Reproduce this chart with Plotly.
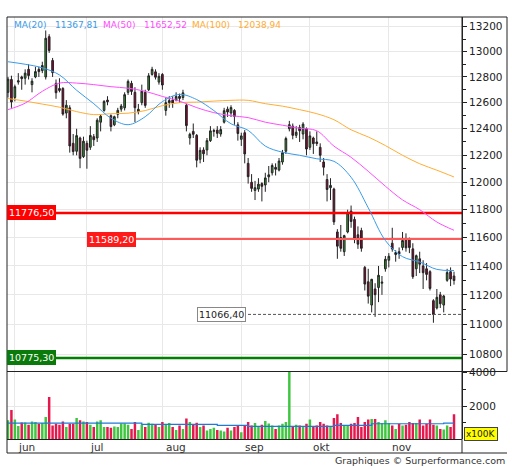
import math
import plotly.graph_objects as go

# daily candles, 30 May -> 28 Nov (index = trading day)
opens = [12680, 12780, 12640, 12760, 12800, 12790, 12860, 12740, 12800, 12860, 12850, 12800, 13120,
         12930, 12750, 12710, 12710, 12520, 12560, 12290, 12230, 12330, 12190, 12290, 12260, 12340,
         12330, 12450, 12540, 12620, 12500, 12430, 12510, 12550, 12560, 12680, 12750, 12680, 12530,
         12600, 12680, 12700, 12820, 12840, 12760, 12820, 12540, 12600, 12620, 12620, 12650, 12640,
         12580, 12330, 12380, 12350, 12170, 12240, 12240, 12310, 12380, 12390, 12360, 12450, 12550,
         12520, 12540, 12430, 12320, 12370, 12140, 12000, 11940, 11950, 11990, 11980, 12040, 12070,
         12110, 12090, 12150, 12230, 12400, 12420, 12350, 12410, 12360, 12400, 12260, 12330, 12300,
         12260, 12150, 12020, 11960, 11950, 11640, 11600, 11500, 11640, 11790, 11730, 11620, 11650,
         11390, 11290, 11130, 11240, 11250, 11280, 11380, 11440, 11560, 11480, 11500, 11530, 11590,
         11590, 11520, 11380, 11450, 11400, 11380, 11360, 11160, 11110, 11200, 11130, 11300, 11360,
         11330]
highs = [12800, 12810, 12740, 12830, 12810, 12860, 12900, 12790, 12880, 12880, 12920, 13170, 13140,
         12950, 12780, 12790, 12720, 12620, 12580, 12360, 12400, 12340, 12340, 12310, 12420, 12360,
         12480, 12510, 12620, 12650, 12510, 12500, 12560, 12590, 12680, 12780, 12770, 12720, 12590,
         12740, 12700, 12830, 12880, 12860, 12830, 12830, 12640, 12650, 12650, 12680, 12670, 12700,
         12590, 12370, 12440, 12360, 12260, 12260, 12330, 12420, 12400, 12420, 12420, 12560, 12570,
         12580, 12550, 12450, 12370, 12390, 12180, 12060, 12010, 12030, 12000, 12070, 12120, 12140,
         12140, 12180, 12240, 12340, 12460, 12440, 12420, 12430, 12450, 12410, 12380, 12340, 12380,
         12290, 12180, 12060, 12030, 11960, 11660, 11690, 11620, 11800, 11830, 11750, 11680, 11670,
         11400, 11380, 11310, 11280, 11400, 11330, 11470, 11490, 11670, 11510, 11530, 11640, 11630,
         11600, 11560, 11480, 11500, 11440, 11420, 11370, 11170, 11240, 11220, 11200, 11380, 11390,
         11360]
lows = [12640, 12560, 12610, 12740, 12700, 12740, 12780, 12680, 12790, 12800, 12830, 12780, 12990,
        12800, 12630, 12680, 12500, 12480, 12220, 12200, 12200, 12104, 12180, 12100, 12240, 12270,
        12300, 12380, 12530, 12580, 12380, 12420, 12480, 12530, 12540, 12660, 12660, 12450, 12510,
        12580, 12560, 12690, 12810, 12780, 12740, 12700, 12500, 12560, 12560, 12610, 12600, 12620,
        12380, 12280, 12330, 12110, 12140, 12150, 12200, 12300, 12340, 12330, 12340, 12440, 12490,
        12490, 12430, 12310, 12270, 12140, 11990, 11930, 11870, 11930, 11860, 11930, 12000, 12050,
        12050, 12080, 12130, 12210, 12380, 12320, 12330, 12300, 12320, 12200, 12240, 12210, 12270,
        12150, 12050, 11860, 11870, 11690, 11450, 11500, 11470, 11630, 11670, 11560, 11520, 11500,
        11230, 11140, 11080, 11050, 11150, 11200, 11360, 11390, 11500, 11430, 11450, 11510, 11500,
        11490, 11310, 11330, 11350, 11240, 11300, 11230, 11010, 11100, 11110, 11080, 11290, 11260,
        11270]
closes = [12783, 12605, 12724, 12770, 12787, 12830, 12811, 12767, 12842, 12842, 12890, 13107, 13010,
          12834, 12677, 12695, 12512, 12580, 12270, 12228, 12348, 12177, 12306, 12238, 12349, 12317,
          12465, 12496, 12609, 12607, 12417, 12492, 12541, 12574, 12662, 12765, 12687, 12561, 12549,
          12689, 12579, 12809, 12860, 12798, 12805, 12737, 12600, 12616, 12598, 12648, 12633, 12676,
          12424, 12358, 12358, 12163, 12237, 12211, 12310, 12384, 12386, 12365, 12394, 12538, 12528,
          12562, 12494, 12364, 12346, 12210, 12041, 11955, 11960, 11986, 11970, 12032, 12055, 12124,
          12096, 12157, 12219, 12326, 12431, 12350, 12374, 12385, 12435, 12247, 12346, 12287, 12288,
          12200, 12111, 11947, 11977, 11712, 11539, 11524, 11614, 11777, 11715, 11589, 11553, 11524,
          11274, 11191, 11307, 11201, 11335, 11287, 11447, 11468, 11519, 11494, 11484, 11579, 11527,
          11529, 11325, 11472, 11412, 11353, 11341, 11244, 11066, 11183, 11139, 11192, 11354, 11309,
          11299]
# volume, in units of 100K
volume = [1145, 1760, 1200, 800, 1020, 1020, 880, 1080, 1040, 940, 980, 1350, 2535, 840, 940, 880,
          1080, 740, 940, 940, 1290, 1145, 1080, 1040, 880, 740, 1080, 1145, 740, 740, 700, 780,
          740, 960, 960, 880, 630, 1040, 570, 900, 740, 1000, 940, 900, 740, 1040, 920, 980, 740,
          570, 840, 630, 1250, 1040, 880, 1000, 740, 840, 530, 630, 700, 570, 530, 470, 700, 530,
          740, 840, 430, 800, 1040, 840, 980, 740, 880, 1100, 960, 840, 630, 840, 940, 1040, 4200,
          780, 880, 840, 780, 940, 1200, 780, 840, 1040, 940, 840, 780, 1290, 1510, 980, 840, 840,
          940, 980, 1350, 740, 1040, 1190, 1230, 1230, 1040, 980, 1145, 980, 840, 630, 940, 840,
          880, 1040, 980, 980, 1190, 840, 940, 1190, 880, 840, 630, 590, 840, 740, 1510]
vol_avg_idx = [0, 39, 61, 70, 95, 106, 127, 130]
vol_avg = [980, 900, 840, 780, 840, 940, 980, 980]

# moving averages read every 5 trading days
ma_idx = list(range(0, 131, 5))
ma20 = [12920, 12900, 12872, 12816, 12696, 12592, 12481, 12431, 12492, 12608, 12664, 12624, 12539,
        12438, 12388, 12269, 12223, 12200, 12174, 12155, 12037, 11814, 11579, 11465, 11428, 11376, 11368]
ma50 = [12546, 12596, 12688, 12752, 12752, 12740, 12724, 12712, 12688, 12648, 12612, 12562, 12523,
        12500, 12485, 12450, 12427, 12404, 12385, 12269, 12185, 12081, 11971, 11871, 11800, 11711, 11652]
ma100 = [12632, 12612, 12589, 12565, 12531, 12508, 12515, 12519, 12539, 12577, 12600, 12604, 12612,
         12618, 12618, 12592, 12573, 12546, 12515, 12469, 12392, 12338, 12273, 12200, 12137, 12089, 12039]

month_idx = [2, 23, 45, 68, 88, 111]
month_names = ["jun", "jul", "aug", "sep", "okt", "nov"]
price_ticks = [10800, 11000, 11200, 11400, 11600, 11800, 12000, 12200, 12400, 12600, 12800, 13000, 13200]

levels = [11776.50, 11589.20, 11066.40, 10775.30]
level_labels = ["11776,50", "11589,20", "11066,40", "10775,30"]
legend_names = ["MA(20)", "MA(50)", "MA(100)"]
legend_values = ["11367,81", "11652,52", "12038,94"]

FONT = "DejaVu Sans"
GRID = "#e8e8e8"
INK = "#222222"
n = len(closes)
idx = list(range(n))
X0, X1 = -0.29, 132.33


def px_x(px):
    return (px - 7) / 455


def px_y(py):
    return (453 - py) / 436


fig = go.Figure()

# level lines (drawn first, under the candles)
level_start = [12.6, 36.4, 68.5, 12.2]
level_style = [dict(color="#ff0000", width=2.5), dict(color="#ff5a5a", width=2),
               dict(color="#555555", width=1, dash="3px,2px"), dict(color="#008000", width=2.5)]
for lv, x_start, st in zip(levels, level_start, level_style):
    fig.add_trace(go.Scatter(x=[x_start, X1], y=[lv, lv], mode="lines", line=st, hoverinfo="skip"))

ma_colors = ["#3a9be8", "#ff4dff", "#ffad33"]
for vals, col in zip([ma100, ma50, ma20], ma_colors[::-1]):
    fig.add_trace(go.Scatter(x=ma_idx, y=vals, mode="lines", line=dict(color=col, width=1, shape="spline"),
                             hoverinfo="skip"))

fig.add_trace(go.Candlestick(
    x=idx, open=opens, high=highs, low=lows, close=closes,
    increasing=dict(fillcolor="#339933", line=dict(color=INK, width=1)),
    decreasing=dict(fillcolor="#990033", line=dict(color=INK, width=1)),
    whiskerwidth=0,
))

bar_colors = ["#3fc53f" if c >= o else "#e5174d" for o, c in zip(opens, closes)]
fig.add_trace(go.Bar(x=idx, y=volume, marker=dict(color=bar_colors, line=dict(width=0)), width=0.72,
                     xaxis="x2", yaxis="y2"))
fig.add_trace(go.Scatter(x=vol_avg_idx, y=vol_avg, mode="lines", line=dict(color="#1f7ad6", width=1.2, shape="hv"),
                         xaxis="x2", yaxis="y2", hoverinfo="skip"))

axis_common = dict(range=[X0, X1], tickvals=month_idx, showticklabels=False, showgrid=True, gridcolor=GRID,
                   zeroline=False, ticks="", showline=False)
fig.update_layout(
    width=512, height=470,
    margin=dict(l=7, r=50, t=17, b=17),
    paper_bgcolor="white", plot_bgcolor="white",
    showlegend=False,
    font=dict(family=FONT, size=10.5, color=INK),
    xaxis=dict(axis_common, anchor="y", rangeslider=dict(visible=False)),
    xaxis2=dict(axis_common, anchor="y2", matches="x"),
    yaxis=dict(type="log", domain=[0.1865, 1], range=[4.02876, 4.12317], side="right",
               tickvals=price_ticks, ticktext=[str(t) for t in price_ticks],
               ticks="outside", ticklen=4, tickcolor=INK, showgrid=True, gridcolor=GRID,
               minor=dict(tickmode="array", tickvals=[t + 100 for t in price_ticks[:-1]],
                          ticks="outside", ticklen=3, tickcolor=INK, showgrid=False),
               showline=True, linecolor=INK, linewidth=1, zeroline=False, anchor="x"),
    yaxis2=dict(domain=[0.031, 0.1865], range=[0, 4050], side="right",
                tickvals=[2000, 4000], ticktext=["2000", "4000"],
                ticks="outside", ticklen=4, tickcolor=INK, showgrid=True, gridcolor=GRID,
                minor=dict(tickmode="array", tickvals=[1000, 3000], ticks="outside", ticklen=3,
                           tickcolor=INK, showgrid=False),
                showline=True, linecolor=INK, linewidth=1, zeroline=False, anchor="x2"),
)

# frame and pane separators
frame = [(7, 17, 507, 17), (7, 17, 7, 453), (507, 17, 507, 371.5), (7, 371.5, 507, 371.5),
         (7, 439.5, 462, 439.5), (7, 453, 507, 453), (462, 17, 462, 453)]
for x0, y0, x1, y1 in frame:
    fig.add_shape(type="line", xref="paper", yref="paper", x0=px_x(x0), y0=px_y(y0), x1=px_x(x1), y1=px_y(y1),
                  line=dict(color=INK, width=1))

# level labels
label_left = [7, 87, 197, 7]
label_style = [("#ff0000", "white", "#ff0000"), ("#ff1a1a", "white", "#ff1a1a"),
               ("white", INK, "#888888"), ("#0a7a0a", "white", "#0a7a0a")]
for lv, txt, left, (bg, fg, bd) in zip(levels, level_labels, label_left, label_style):
    fig.add_annotation(x=px_x(left), xref="paper", y=math.log10(lv), yref="y", text=txt, showarrow=False,
                       xanchor="left", yanchor="middle", bgcolor=bg, bordercolor=bd, borderwidth=1, borderpad=1,
                       font=dict(color=fg, size=9.5))

# MA legend
legend_pos = [(12, 53), (101, 142), (190, 236)]
for name, val, (p1, p2), col in zip(legend_names, legend_values, legend_pos, ma_colors):
    for txt, p in [(name, p1), (val, p2)]:
        fig.add_annotation(x=px_x(p), xref="paper", y=px_y(25), yref="paper", text=txt, showarrow=False,
                           xanchor="left", yanchor="middle", font=dict(color=col, size=9))

# month labels under the volume pane
for mi, name in zip(month_idx, month_names):
    fig.add_annotation(x=mi + 0.4, xref="x", y=px_y(446.5), yref="paper", text=name, showarrow=False,
                       xanchor="left", yanchor="middle", font=dict(color="#333333", size=10.5))

fig.add_annotation(x=px_x(464), xref="paper", y=px_y(434), yref="paper", text="x100K", showarrow=False,
                   xanchor="left", yanchor="middle", bgcolor="#ffff00", bordercolor="#444444", borderwidth=1,
                   borderpad=1, font=dict(color=INK, size=9))
fig.add_annotation(x=px_x(507), xref="paper", y=px_y(461), yref="paper", text="Graphiques © Surperformance.com",
                   showarrow=False, xanchor="right", yanchor="middle", font=dict(color="#333333", size=9.5))

# page body has an 8px default margin; drop it so the chart sits at the window origin
fig.write_html("out.html", config={"displayModeBar": False},
               post_script="document.body.style.margin='0';")
